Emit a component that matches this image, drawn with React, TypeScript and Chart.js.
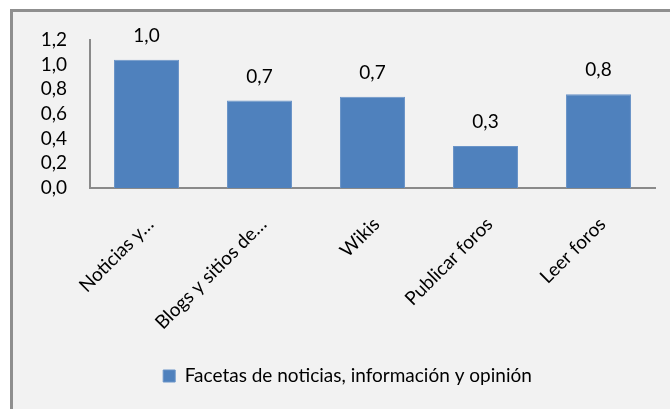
import React, { useEffect, useRef } from "react";
import { Chart, registerables } from "chart.js";

Chart.register(...registerables);

const categories = ["Noticias y…", "Blogs y sitios de…", "Wikis", "Publicar foros", "Leer foros"];
const values = [1.04, 0.71, 0.74, 0.34, 0.76];
const seriesName = "Facetas de noticias, información y opinión";
const yTicks = [0, 0.2, 0.4, 0.6, 0.8, 1.0, 1.2];

const FONT = "Lato";
const FONT_SIZE = 19;

const fmt = (v: number) => (Math.round(v * 10) / 10).toFixed(1).replace(".", ",");

const dataLabels = {
  id: "dataLabels",
  afterDatasetsDraw(chart: any) {
    const ctx = chart.ctx;
    const meta = chart.getDatasetMeta(0);
    ctx.save();
    ctx.font = `${FONT_SIZE}px ${FONT}`;
    ctx.fillStyle = "#000";
    ctx.textAlign = "center";
    ctx.textBaseline = "middle";
    meta.data.forEach((el: any, i: number) => {
      ctx.fillText(fmt(values[i]), el.x, el.y - 24);
    });
    ctx.restore();
  },
};

const legendShift = {
  id: "legendShift",
  afterLayout(chart: any) {
    if (chart.legend) {
      chart.legend.left += 20;
      chart.legend.right += 20;
    }
  },
};

export default function App() {
  const ref = useRef<HTMLCanvasElement>(null);
  useEffect(() => {
    const chart = new Chart(ref.current!, {
      type: "bar",
      data: {
        labels: categories,
        datasets: [
          {
            label: seriesName,
            data: values,
            backgroundColor: "#4f81bd",
            borderColor: "#6a94c8",
            borderWidth: 1,
            barPercentage: 0.575,
            categoryPercentage: 1,
          },
        ],
      },
      options: {
        responsive: false,
        animation: false,
        devicePixelRatio: 1,
        font: { family: FONT, size: FONT_SIZE },
        layout: { padding: { left: 0, top: 40, right: 15, bottom: 13.5 } },
        plugins: {
          tooltip: { enabled: false },
          legend: {
            position: "bottom",
            labels: {
              boxWidth: 12,
              boxHeight: 12,
              padding: 10,
              color: "#000",
              font: { family: FONT, size: FONT_SIZE },
            },
          },
        },
        scales: {
          x: {
            grid: { display: false, drawTicks: false },
            border: { display: true, color: "#8a8a8a", width: 2 },
            ticks: {
              color: "#000",
              font: { family: FONT, size: FONT_SIZE },
              minRotation: 45,
              maxRotation: 45,
              padding: 25,
              labelOffset: 4,
              autoSkip: false,
            },
            afterFit: (s: any) => {
              s.height = 168.5;
            },
          },
          y: {
            min: 0,
            max: 1.2,
            grid: { display: false, drawTicks: false },
            border: { display: true, color: "#8a8a8a", width: 2 },
            afterBuildTicks: (s: any) => {
              s.ticks = yTicks.map((v) => ({ value: v }));
            },
            ticks: {
              color: "#000",
              font: { family: FONT, size: FONT_SIZE },
              padding: 23,
              autoSkip: false,
              callback: (v: any) => fmt(Number(v)),
            },
            afterFit: (s: any) => {
              s.width = 90;
            },
          },
        },
      },
      plugins: [dataLabels, legendShift],
    } as any);
    return () => chart.destroy();
  }, []);
  return (
    <div
      style={{
        position: "absolute",
        left: 0,
        top: 0,
        width: 670,
        height: 409,
        background: "#fff",
        overflow: "hidden",
      }}
    >
      <div
        style={{
          position: "absolute",
          left: 10,
          top: 9,
          right: 0,
          bottom: 0,
          background: "#f2f2f2",
          borderLeft: "3px solid #8f8f8f",
          borderTop: "3px solid #8f8f8f",
        }}
      />
      <canvas
        ref={ref}
        width={670}
        height={409}
        style={{ position: "absolute", left: 0, top: 0 }}
      />
    </div>
  );
}
